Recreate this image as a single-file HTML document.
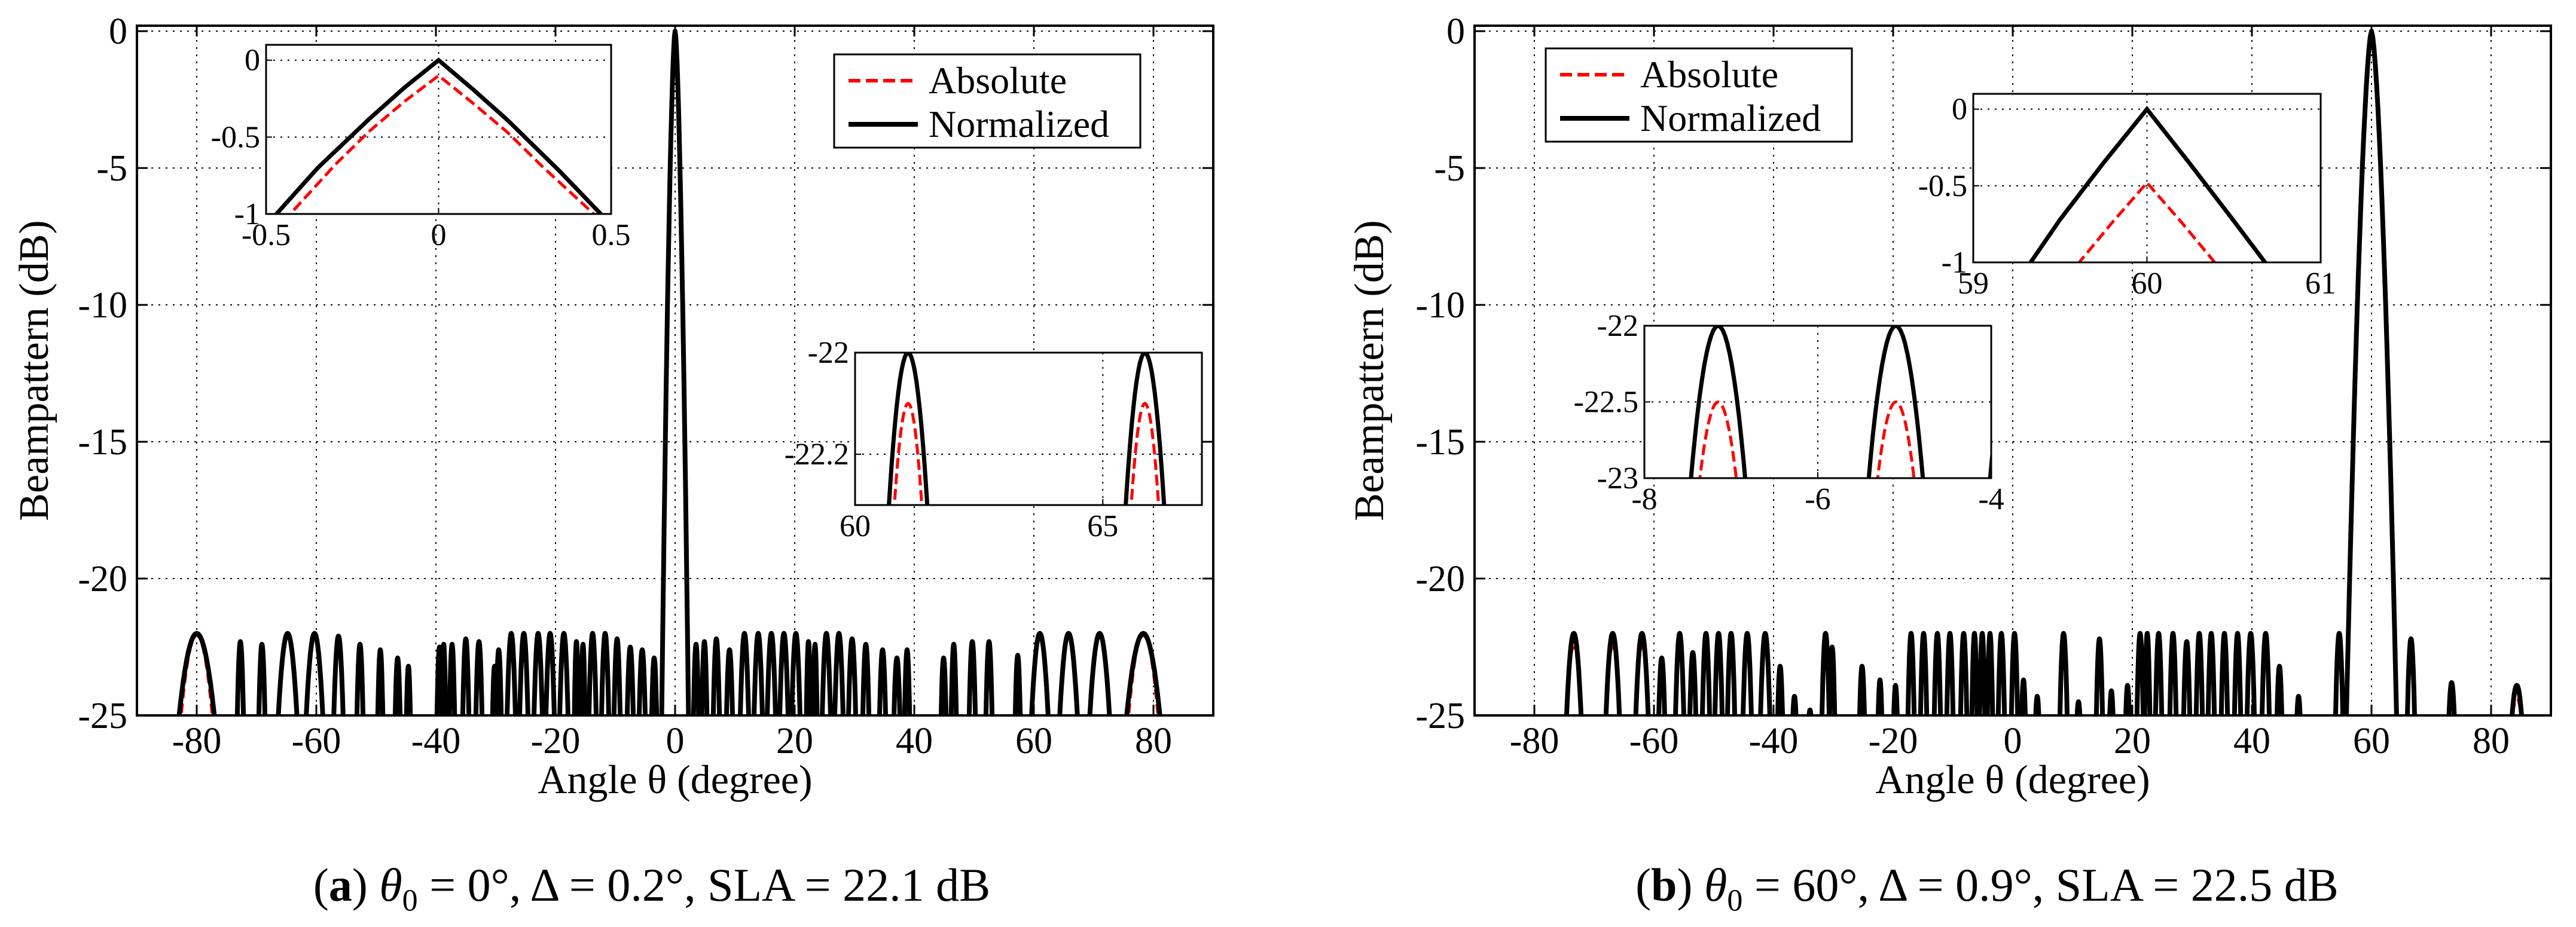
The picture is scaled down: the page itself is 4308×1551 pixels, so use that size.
<!DOCTYPE html>
<html><head><meta charset="utf-8"><style>
html,body{margin:0;padding:0;background:#fff;width:4308px;height:1551px;overflow:hidden}
svg text{font-family:"Liberation Serif",serif;fill:#000}
</style></head><body>
<svg id="fig" width="4308" height="1551" viewBox="0 0 4308 1551" xmlns="http://www.w3.org/2000/svg"></svg>
<script>
// ---------- data: panel (a) ----------
const aLobeCenters=[-80,-72.7,-69.1,-64.8,-60.3,-56.3,-52.7,-49.3,-46.4,-44.6,-39.4,-38.7,-37.3,-35,-32.8,-30.2,-29.5,-27.4,-25.3,-22.9,-20.9,-18.6,-16.5,-15.4,-13.8,-11.7,-9.7,-7.5,-5.5,-3.5,3.5,4.9,6.9,9.1,11.6,13.9,16.1,18.2,20.2,22.3,23.4,25.3,27.4,29.6,31.9,34.7,37.1,38.8,44.9,46.6,49.7,52.5,57.3,61,65.8,71,78.3];
const aLobePeaks=[-22,-22.3,-22.4,-22,-22,-22.1,-22.4,-22.6,-22.9,-23.2,-22.5,-22.4,-22.4,-22.2,-22.3,-23.2,-22.6,-22,-22,-22,-22,-22,-22.3,-22.4,-22,-22,-22.2,-22.5,-22.6,-22.9,-22.4,-22.3,-22.2,-22.6,-22,-22,-22,-22,-22,-22.3,-22.4,-22,-22,-22.2,-22.4,-22.6,-22.9,-22.6,-22.9,-22.4,-22.3,-22.3,-22.8,-22,-22,-22,-22];
const aLobeWidths=[3.4,0.6,0.6,1.8,1.6,0.9,0.6,0.5,0.5,0.4,0.5,0.4,0.5,0.6,0.6,0.4,0.5,0.8,0.8,0.8,0.8,0.8,0.4,0.4,0.7,0.7,0.6,0.6,0.6,0.5,0.5,0.5,0.6,0.6,0.8,0.8,0.8,0.8,0.8,0.4,0.4,0.8,0.8,0.7,0.6,0.6,0.6,0.5,0.5,0.5,0.6,0.6,0.5,1.6,1.7,1.9,3.2];
const aAbsOffset=-0.1;
const aMain={center:0,peak:0,absPeak:-0.1,width:2.3};
// inset (a1)
const a1NormX=[-0.5,-0.47,-0.35,-0.2,-0.1,0,0.1,0.2,0.35,0.47,0.5];
const a1NormY=[-1.08,-1,-0.7,-0.38,-0.18,0,-0.19,-0.39,-0.72,-1,-1.08];
const a1AbsX=[-0.45,-0.43,-0.3,-0.2,-0.1,0,0.1,0.2,0.3,0.45,0.47];
const a1AbsY=[-1.05,-1,-0.68,-0.46,-0.27,-0.1,-0.28,-0.47,-0.69,-1,-1.05];
// inset (a2)
const a2Centers=[61.07,65.85];
const a2NormPeaks=[-22,-22];
const a2AbsPeaks=[-22.1,-22.1];
// ---------- data: panel (b) ----------
const bLobeCenters=[-73.4,-66.9,-62,-58.7,-55.7,-53.5,-51.3,-49.2,-47.1,-44.4,-41.4,-38.9,-36.5,-33.9,-31.3,-30.2,-25.2,-22.2,-19.6,-17,-14.9,-12.6,-10.5,-8.2,-6.4,-5.1,-3.8,-1.9,0.3,1.8,4.1,8.5,11,14.5,16.5,19.2,21.3,22.5,24.4,26.8,29.1,31.2,33.2,35.4,37.6,39.8,42.3,44.6,47.8,54.6,66.6,73.4,84.3];
const bLobePeaks=[-22,-22,-22,-22.9,-22,-22.7,-22,-22,-22,-22,-22,-23.2,-24.3,-24.8,-22,-22.5,-23.2,-23.7,-23.9,-22,-22,-22,-22,-22,-22,-22,-22,-22,-22,-23.7,-24.3,-22,-24.5,-22.2,-24.1,-23.9,-22,-22,-22,-22,-22.3,-22,-22,-22,-22,-22,-22,-23.2,-24.3,-22,-22.2,-23.8,-23.9];
const bLobeWidths=[1.4,1.3,1.2,0.6,0.8,0.6,0.7,0.7,0.7,0.8,0.9,0.5,0.4,0.4,0.7,0.5,0.5,0.4,0.4,0.6,0.6,0.6,0.6,0.6,0.5,0.5,0.5,0.6,0.6,0.4,0.4,0.7,0.4,0.6,0.4,0.4,0.6,0.5,0.6,0.6,0.6,0.6,0.6,0.6,0.6,0.7,0.7,0.5,0.4,0.7,0.7,0.6,1.1];
const bAbsOffset=-0.5;
const bMain={center:60,peak:0,absPeak:-0.5,width:4.3};
// inset (b1)
const b1NormX=[59.25,59.33,59.5,59.75,60,60.25,60.5,60.68,60.75];
const b1NormY=[-1.12,-1,-0.72,-0.35,0,-0.36,-0.73,-1,-1.1];
const b1AbsX=[59.55,59.61,59.8,60,60.2,60.39,60.45];
const b1AbsY=[-1.1,-1,-0.74,-0.48,-0.74,-1,-1.1];
// inset (b2)
const b2Centers=[-7.15,-5.1,-3.7];
const b2NormPeaks=[-22,-22,-22];
const b2AbsPeaks=[-22.5,-22.5,-22.5];

// ---------- helpers ----------
const NS='http://www.w3.org/2000/svg';
const svg=document.getElementById('fig');
function mk(tag,attrs,parent){const e=document.createElementNS(NS,tag);for(const k in attrs)e.setAttribute(k,attrs[k]);(parent||svg).appendChild(e);return e;}
function txt(s,x,y,size,anchor,parent,extra){const t=mk('text',Object.assign({x:x,y:y,'font-size':size,'text-anchor':anchor||'middle'},extra||{}),parent);t.textContent=s;return t;}
let clipId=0;
function makeAxes(g,x0,x1,y0,y1,xmin,xmax,ymin,ymax){
  const sx=v=>x0+(v-xmin)/(xmax-xmin)*(x1-x0);
  const sy=v=>y1-(v-ymin)/(ymax-ymin)*(y1-y0);
  clipId++;
  const cp=mk('clipPath',{id:'c'+clipId},g);
  mk('rect',{x:x0,y:y0,width:x1-x0,height:y1-y0},cp);
  return {sx,sy,clip:'url(#c'+clipId+')'};
}
function lobePath(ax,c,p,w,floor){
  let d='';const n=24;
  for(let i=0;i<=n;i++){const dx=-w+2*w*i/n;const y=p-(p-floor)*(dx/w)*(dx/w);d+=(i?'L':'M')+ax.sx(c+dx).toFixed(1)+','+ax.sy(y).toFixed(1);}
  return d;
}
function mainPath(ax,c,p,w,floor){
  let d='';const n=40;
  for(let i=0;i<=n;i++){const dx=-w+2*w*i/n;const y=p-(p-floor)*Math.pow(Math.abs(dx)/w,1.6);d+=(i?'L':'M')+ax.sx(c+dx).toFixed(1)+','+ax.sy(y).toFixed(1);}
  return d;
}
function polyPath(ax,xs,ys){return xs.map((x,i)=>(i?'L':'M')+ax.sx(x).toFixed(1)+','+ax.sy(ys[i]).toFixed(1)).join('');}

function panel(o){
  const g=mk('g',{});
  
  
  const X0=o.x0,X1=o.x0+1800,Y0=43,Y1=1197;
  const ax=makeAxes(g,X0,X1,Y0,Y1,-90,90,-25,0.2);
  const grid=mk('g',{stroke:'#000','stroke-width':2,'stroke-dasharray':'3 9'},g);
  
  
  [-80,-60,-40,-20,0,20,40,60,80].forEach(v=>mk('line',{x1:ax.sx(v),x2:ax.sx(v),y1:Y0,y2:Y1},grid));
  [0,-5,-10,-15,-20].forEach(v=>mk('line',{x1:X0,x2:X1,y1:ax.sy(v),y2:ax.sy(v)},grid));
  [-80,-60,-40,-20,0,20,40,60,80].forEach(v=>{mk('line',{x1:ax.sx(v),x2:ax.sx(v),y1:Y1,y2:Y1-18,stroke:'#000','stroke-width':3},g);mk('line',{x1:ax.sx(v),x2:ax.sx(v),y1:Y0,y2:Y0+18,stroke:'#000','stroke-width':3},g);
    const t=txt(String(v),ax.sx(v),1260,62,'middle',g);});
  [0,-5,-10,-15,-20,-25].forEach(v=>{mk('line',{x1:X0,x2:X0+18,y1:ax.sy(v),y2:ax.sy(v),stroke:'#000','stroke-width':3},g);mk('line',{x1:X1,x2:X1-18,y1:ax.sy(v),y2:ax.sy(v),stroke:'#000','stroke-width':3},g);
    const t=txt(String(v),X0-16,ax.sy(v)+21,62,'end',g);});
  const ser=mk('g',{'clip-path':ax.clip,fill:'none'},g);
  const abs=mk('g',{stroke:'#f00','stroke-width':3,'stroke-dasharray':'16 9'},ser);
  
  
  const nrm=mk('g',{stroke:'#000','stroke-width':8,'stroke-linejoin':'round'},ser);
  
  
  o.centers.forEach((c,i)=>{
    const p=mk('path',{d:lobePath(ax,c,o.peaks[i],o.widths[i],-26)},nrm);
    
    
    const q=mk('path',{d:lobePath(ax,c,o.peaks[i]+o.absOff,o.widths[i]*0.85,-26)},abs);
    
    
  });
  const m=mk('path',{d:mainPath(ax,o.main.center,o.main.peak,o.main.width,-26)},nrm);
  
  
  const m2=mk('path',{d:mainPath(ax,o.main.center,o.main.absPeak,o.main.width*0.95,-26)},abs);
  
  
  mk('rect',{x:X0,y:Y0,width:X1-X0,height:Y1-Y0,fill:'none',stroke:'#000','stroke-width':4},g);
  const xl=txt('Angle θ (degree)',(X0+X1)/2,1327,68,'middle',g);
  
  const yl=txt('Beampattern (dB)',0,0,70,'middle',g,{transform:'translate('+(o.ylabX)+',620) rotate(-90)'});
  
  const L=mk('g',{},g);
  
  mk('rect',{x:o.lx,y:o.ly,width:512,height:156,fill:'#fff',stroke:'#000','stroke-width':3},L);
  mk('line',{x1:o.lx+24,x2:o.lx+140,y1:o.ly+44,y2:o.ly+44,stroke:'#f00','stroke-width':6,'stroke-dasharray':'20 9'},L);
  mk('line',{x1:o.lx+24,x2:o.lx+140,y1:o.ly+117,y2:o.ly+117,stroke:'#000','stroke-width':8},L);
  const t1=txt('Absolute',o.lx+158,o.ly+65,64,'start',L);
  const t2=txt('Normalized',o.lx+158,o.ly+138,64,'start',L);
  return g;
}
function inset(o){
  const g=mk('g',{});
  
  
  mk('rect',{x:o.x0,y:o.y0,width:o.x1-o.x0,height:o.y1-o.y0,fill:'#fff'},g);
  const ax=makeAxes(g,o.x0,o.x1,o.y0,o.y1,o.xmin,o.xmax,o.ymin,o.ymax);
  const grid=mk('g',{stroke:'#000','stroke-width':2,'stroke-dasharray':'3 9'},g);
  o.xgrid.forEach(v=>mk('line',{x1:ax.sx(v),x2:ax.sx(v),y1:o.y0,y2:o.y1},grid));
  o.ygrid.forEach(v=>mk('line',{x1:o.x0,x2:o.x1,y1:ax.sy(v),y2:ax.sy(v)},grid));
  o.xt.forEach((v,i)=>{const t=txt(o.xtl[i],ax.sx(v),o.y1+52,52,'middle',g);
    mk('line',{x1:ax.sx(v),x2:ax.sx(v),y1:o.y1,y2:o.y1-10,stroke:'#000','stroke-width':2},g);});
  o.yt.forEach((v,i)=>{const t=txt(o.ytl[i],o.x0-10,ax.sy(v)+17,52,'end',g);
    mk('line',{x1:o.x0,x2:o.x0+10,y1:ax.sy(v),y2:ax.sy(v),stroke:'#000','stroke-width':2},g);});
  const ser=mk('g',{'clip-path':ax.clip,fill:'none'},g);
  o.draw(ax,ser);
  mk('rect',{x:o.x0,y:o.y0,width:o.x1-o.x0,height:o.y1-o.y0,fill:'none',stroke:'#000','stroke-width':3},g);
}
function addPath(parent,d,norm,name){
  const p=mk('path',norm?{d:d,stroke:'#000','stroke-width':7}:{d:d,stroke:'#f00','stroke-width':5,'stroke-dasharray':'18 8'},parent);
  
  
}

panel({name:'panel-a',x0:229,centers:aLobeCenters,peaks:aLobePeaks,widths:aLobeWidths,absOff:aAbsOffset,main:aMain,ylabX:80,lx:1395,ly:91});
panel({name:'panel-b',x0:2466,centers:bLobeCenters,peaks:bLobePeaks,widths:bLobeWidths,absOff:bAbsOffset,main:bMain,ylabX:2313,lx:2585,ly:81});

inset({name:'inset-a-mainlobe',x0:445,x1:1022,y0:75,y1:358,xmin:-0.5,xmax:0.5,ymin:-1,ymax:0.1,xgrid:[0],ygrid:[0,-0.5],xt:[-0.5,0,0.5],xtl:['-0.5','0','0.5'],yt:[0,-0.5,-1],ytl:['0','-0.5','-1'],
  draw:(ax,s)=>{addPath(s,polyPath(ax,a1NormX,a1NormY),true,'inset-normalized-curve');addPath(s,polyPath(ax,a1AbsX,a1AbsY),false,'inset-absolute-curve');}});
inset({name:'inset-a-sidelobes',x0:1430,x1:2010,y0:590,y1:845,xmin:60,xmax:67,ymin:-22.3,ymax:-22,xgrid:[65],ygrid:[-22.2],xt:[60,65],xtl:['60','65'],yt:[-22,-22.2],ytl:['-22','-22.2'],
  draw:(ax,s)=>{a2Centers.forEach((c,i)=>{addPath(s,lobePath(ax,c,a2NormPeaks[i],0.4,-22.32),true,'inset-normalized-lobe');addPath(s,lobePath(ax,c,a2AbsPeaks[i],0.29,-22.32),false,'inset-absolute-lobe');});}});
inset({name:'inset-b-mainlobe',x0:3300,x1:3881,y0:157,y1:439,xmin:59,xmax:61,ymin:-1,ymax:0.1,xgrid:[60],ygrid:[0,-0.5],xt:[59,60,61],xtl:['59','60','61'],yt:[0,-0.5,-1],ytl:['0','-0.5','-1'],
  draw:(ax,s)=>{addPath(s,polyPath(ax,b1NormX,b1NormY),true,'inset-normalized-curve');addPath(s,polyPath(ax,b1AbsX,b1AbsY),false,'inset-absolute-curve');}});
inset({name:'inset-b-sidelobes',x0:2750,x1:3330,y0:545,y1:800,xmin:-8,xmax:-4,ymin:-23,ymax:-22,xgrid:[-6],ygrid:[-22.5],xt:[-8,-6,-4],xtl:['-8','-6','-4'],yt:[-22,-22.5,-23],ytl:['-22','-22.5','-23'],
  draw:(ax,s)=>{b2Centers.forEach((c,i)=>{addPath(s,lobePath(ax,c,b2NormPeaks[i],0.32,-23.05),true,'inset-normalized-lobe');addPath(s,lobePath(ax,c,b2AbsPeaks[i],0.22,-23.05),false,'inset-absolute-lobe');});}});
</script>
<div style="position:absolute;left:0;top:0;width:4308px;height:1551px;pointer-events:none">
  <div style="position:absolute;left:430px;top:1436px;width:1320px;text-align:center;font:78px 'Liberation Serif',serif;white-space:nowrap">(<b>a</b>) <i>θ</i><sub style="font-size:52px">0</sub> = 0°, Δ = 0.2°, SLA = 22.1 dB</div>
  <div style="position:absolute;left:2663px;top:1436px;width:1320px;text-align:center;font:78px 'Liberation Serif',serif;white-space:nowrap">(<b>b</b>) <i>θ</i><sub style="font-size:52px">0</sub> = 60°, Δ = 0.9°, SLA = 22.5 dB</div>
</div>
</body></html>
